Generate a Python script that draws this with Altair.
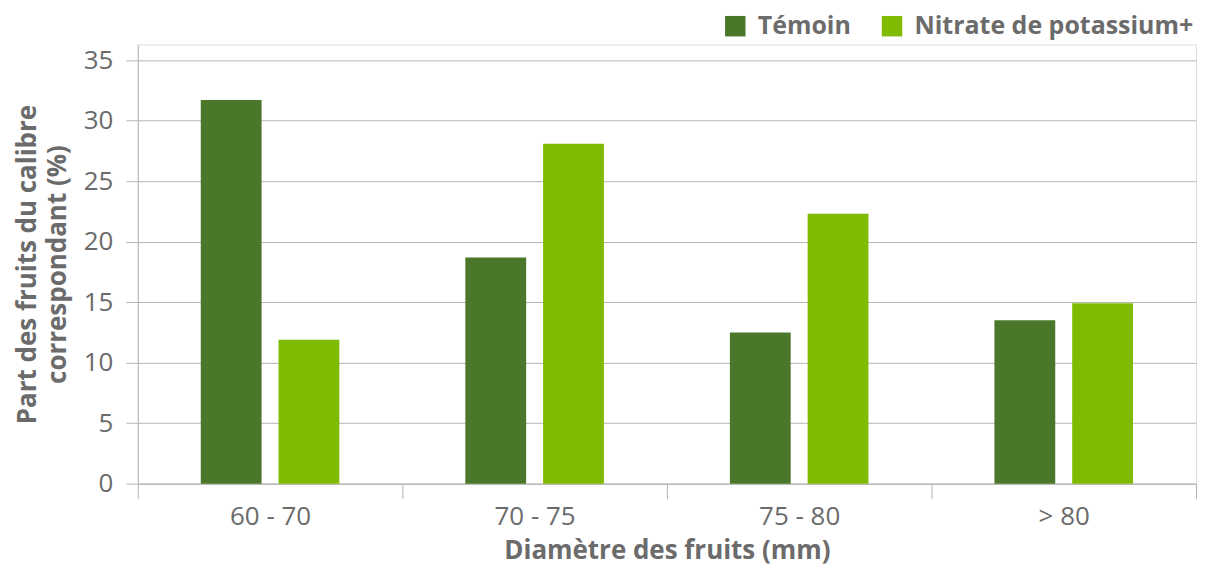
import altair as alt
import pandas as pd

categories = ["60 - 70", "70 - 75", "75 - 80", "> 80"]
series = ["Témoin", "Nitrate de potassium+"]
temoin = [31.7, 18.7, 12.5, 13.5]
nitrate = [11.9, 28.1, 22.3, 14.9]
colors = ["#4a7729", "#80bb04"]
y_ticks = [0, 5, 10, 15, 20, 25, 30, 35]

rows = []
for c, t, n in zip(categories, temoin, nitrate):
    rows.append({"cat": c, "serie": series[0], "val": t})
    rows.append({"cat": c, "serie": series[1], "val": n})
df = pd.DataFrame(rows)

FONT = "Open Sans"
GRAY_TXT = "#6b6b6b"
GRID = "#b5b5b5"

chart = alt.Chart(df).mark_bar().encode(
    x=alt.X("cat:N", sort=categories,
            scale=alt.Scale(paddingInner=0, paddingOuter=0),
            axis=alt.Axis(title="Diamètre des fruits (mm)", labelAngle=0,
                          tickBand="extent", tickSize=15, tickColor=GRID,
                          domainColor=GRID, labelFontSize=26, labelColor=GRAY_TXT,
                          labelFont=FONT, labelPadding=5,
                          titleFont=FONT, titleFontSize=26, titleFontWeight="bold",
                          titleColor=GRAY_TXT, titlePadding=8)),
    xOffset=alt.XOffset("serie:N", sort=series,
                        scale=alt.Scale(paddingInner=0.218, paddingOuter=0.81)),
    y=alt.Y("val:Q",
            scale=alt.Scale(domain=[0, 36.3], nice=False),
            axis=alt.Axis(values=y_ticks, title=["Part des fruits du calibre", "correspondant (%)"],
                          grid=True, gridColor=GRID, tickColor=GRID, tickSize=12,
                          domainColor=GRID, labelFontSize=26, labelColor=GRAY_TXT,
                          labelFont=FONT, labelPadding=13,
                          titleFont=FONT, titleFontSize=26, titleFontWeight="bold",
                          titleColor=GRAY_TXT, titlePadding=13, titleLineHeight=30)),
    color=alt.Color("serie:N", sort=series,
                    scale=alt.Scale(domain=series, range=colors),
                    legend=alt.Legend(title=None, orient="none", direction="horizontal",
                                      legendX=586, legendY=-31,
                                      symbolType="square", symbolSize=420,
                                      symbolStrokeWidth=0, symbolOpacity=1,
                                      labelFont=FONT, labelFontSize=25,
                                      labelFontWeight="bold", labelColor=GRAY_TXT,
                                      labelLimit=600,
                                      labelOffset=10, columnPadding=28)),
).properties(width=1060, height=440).configure_view(stroke=None).configure(
    padding={"left": 6, "top": 5, "right": 0, "bottom": 7})

chart.save("out.html", embed_options={"renderer": "svg", "actions": False})
